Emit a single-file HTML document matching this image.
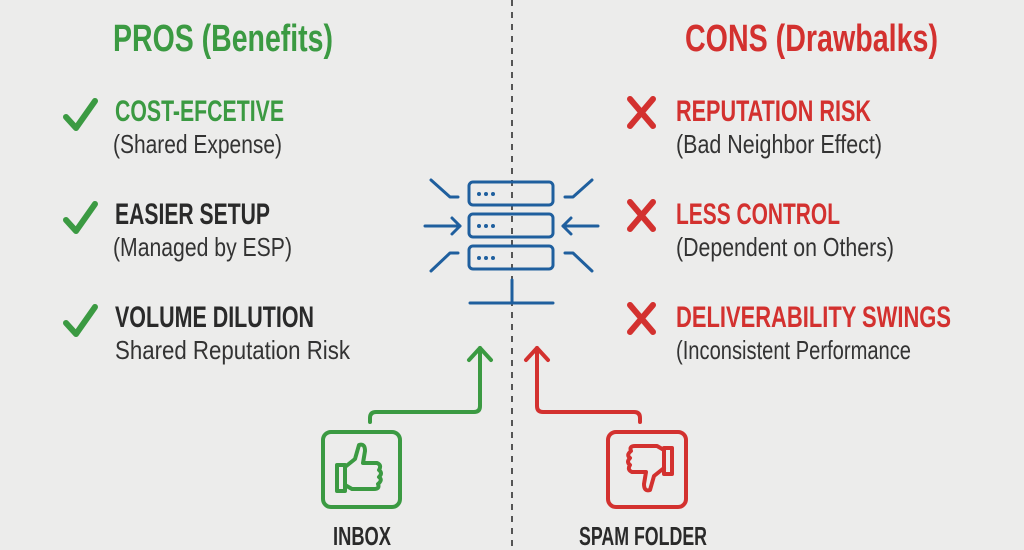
<!DOCTYPE html>
<html><head><meta charset="utf-8"><style>
html,body{margin:0;padding:0;background:#ececeb;}
svg{display:block}
text{font-family:"Liberation Sans Narrow","Liberation Sans",sans-serif;}
.h{font-weight:bold;font-size:30px}
.s{font-size:26px;fill:#333}
.g{fill:#3b9a42}.r{fill:#d3312f}
</style></head><body>
<svg width="1024" height="550" viewBox="0 0 1024 550" xmlns="http://www.w3.org/2000/svg">
<rect width="1024" height="550" fill="#ececeb"/>
<line x1="512" y1="0" x2="512" y2="550" stroke="#555" stroke-width="2" stroke-dasharray="6,6"/>
<text class="h g" x="113" y="51" font-size="38" style="font-size:38px" textLength="220" lengthAdjust="spacingAndGlyphs">PROS (Benefits)</text>
<text class="h r" x="685" y="51" style="font-size:38px" textLength="253" lengthAdjust="spacingAndGlyphs">CONS (Drawbalks)</text>

<g fill="none" stroke="#3b9a42" stroke-width="6" stroke-linecap="round" stroke-linejoin="round">
<polyline points="66,117 76,128 95,101"/>
<polyline points="66,220 76,231 95,204"/>
<polyline points="66,323 76,334 95,307"/>
</g>
<g fill="none" stroke="#d3312f" stroke-width="6" stroke-linecap="round">
<path d="M630,99 L653,126 M653,99 L630,126"/>
<path d="M630,202 L653,229 M653,202 L630,229"/>
<path d="M630,305 L653,332 M653,305 L630,332"/>
</g>

<text class="h g" x="115" y="121" textLength="169" lengthAdjust="spacingAndGlyphs">COST-EFCETIVE</text>
<text class="s" x="113" y="153" textLength="169" lengthAdjust="spacingAndGlyphs">(Shared Expense)</text>
<text class="h" fill="#2a2a2a" x="115" y="224" textLength="155" lengthAdjust="spacingAndGlyphs">EASIER SETUP</text>
<text class="s" x="113" y="256" textLength="179" lengthAdjust="spacingAndGlyphs">(Managed by ESP)</text>
<text class="h" fill="#2a2a2a" x="115" y="327" textLength="199" lengthAdjust="spacingAndGlyphs">VOLUME DILUTION</text>
<text class="s" x="115" y="359" textLength="235" lengthAdjust="spacingAndGlyphs">Shared Reputation Risk</text>

<text class="h r" x="676" y="121" textLength="195" lengthAdjust="spacingAndGlyphs">REPUTATION RISK</text>
<text class="s" x="676" y="153" textLength="206" lengthAdjust="spacingAndGlyphs">(Bad Neighbor Effect)</text>
<text class="h r" x="676" y="224" textLength="164" lengthAdjust="spacingAndGlyphs">LESS CONTROL</text>
<text class="s" x="676" y="256" textLength="218" lengthAdjust="spacingAndGlyphs">(Dependent on Others)</text>
<text class="h r" x="676" y="327" textLength="275" lengthAdjust="spacingAndGlyphs">DELIVERABILITY SWINGS</text>
<text class="s" x="676" y="359" textLength="235" lengthAdjust="spacingAndGlyphs">(Inconsistent Performance</text>

<g fill="none" stroke="#1f5f9e" stroke-width="3" stroke-linecap="round" stroke-linejoin="round">
<rect x="469" y="182" width="84" height="23" rx="4"/>
<rect x="469" y="214" width="84" height="23" rx="4"/>
<rect x="469" y="246" width="84" height="23" rx="4"/>
<line x1="512" y1="280" x2="512" y2="303"/>
<line x1="470" y1="303" x2="553" y2="303"/>
<polyline points="431,180 450,197 458,197"/>
<polyline points="431,271 450,253 458,253"/>
<line x1="425" y1="226" x2="460" y2="226"/><polyline points="452,218 460,226 452,234"/>
<polyline points="592,180 573,197 565,197"/>
<polyline points="592,271 573,253 565,253"/>
<line x1="598" y1="226" x2="563" y2="226"/><polyline points="571,218 563,226 571,234"/>
</g>
<g fill="#1f5f9e">
<circle cx="479" cy="194" r="2"/><circle cx="486" cy="194" r="2"/><circle cx="493" cy="194" r="2"/>
<circle cx="479" cy="226" r="2"/><circle cx="486" cy="226" r="2"/><circle cx="493" cy="226" r="2"/>
<circle cx="479" cy="258" r="2"/><circle cx="486" cy="258" r="2"/><circle cx="493" cy="258" r="2"/>
</g>

<g fill="none" stroke="#3b9a42" stroke-width="4" stroke-linecap="round" stroke-linejoin="round">
<path d="M370,422 L370,418 Q370,412 376,412 L474,412 Q480,412 480,406 L480,348"/>
<polyline points="469,360 480,348 491,360"/>
<rect x="323" y="432" width="77" height="75" rx="8"/>
<path d="M337,465 h8 v26 h-8 z M345,467 l10,-8 l4,-14 q6,-2 6,6 l-2,12 h14 q5,2 2,7 q4,3 0,7 q4,3 -1,7 q2,5 -4,5 h-22 l-7,-4"/>
</g>
<g fill="none" stroke="#d3312f" stroke-width="4" stroke-linecap="round" stroke-linejoin="round">
<path d="M640,422 L640,418 Q640,412 634,412 L543,412 Q537,412 537,406 L537,348"/>
<polyline points="526,360 537,348 548,360"/>
<rect x="608" y="432" width="78" height="75" rx="8"/>
<path d="M672,448 h-8 v26 h8 z M664,450 l-7,-4 h-22 q-6,0 -4,5 q-5,4 -1,7 q-4,4 0,7 q-3,5 2,7 h14 l-2,12 q0,8 6,6 l4,-14 l10,-8"/>
</g>
<text x="362" y="545" text-anchor="middle" style="font-size:26px;font-weight:bold" fill="#2a2a2a" textLength="58" lengthAdjust="spacingAndGlyphs">INBOX</text>
<text x="643" y="545" text-anchor="middle" style="font-size:26px;font-weight:bold" fill="#2a2a2a" textLength="128" lengthAdjust="spacingAndGlyphs">SPAM FOLDER</text>
</svg>
</body></html>
